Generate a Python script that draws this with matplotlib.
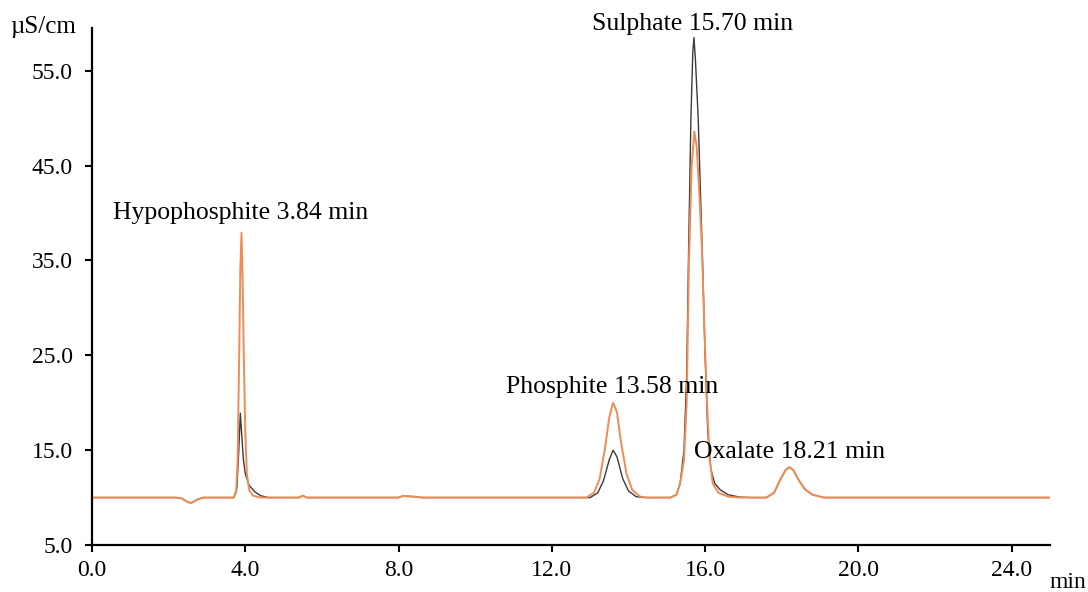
import matplotlib
matplotlib.use("Agg")
import matplotlib.pyplot as plt
from matplotlib.ticker import FormatStrFormatter

plt.rcParams["font.family"] = ["Liberation Serif", "DejaVu Serif"]

# orange trace (time in min, conductivity in uS/cm)
orange_t = [0.0, 2.2, 2.35, 2.5, 2.6, 2.75, 2.9,
            3.70, 3.76, 3.80, 3.84, 3.87, 3.90, 3.93, 3.96, 4.00, 4.04, 4.10, 4.20, 4.40,
            5.4, 5.5, 5.6, 8.0, 8.1, 8.4, 8.6,
            12.9, 13.1, 13.25, 13.4, 13.5, 13.6, 13.7, 13.8, 13.95, 14.1, 14.3, 14.5,
            15.10, 15.25, 15.35, 15.45, 15.52, 15.58, 15.65, 15.72, 15.78, 15.85, 15.92,
            15.98, 16.05, 16.12, 16.20, 16.35, 16.6, 16.9,
            17.6, 17.8, 17.95, 18.1, 18.2, 18.3, 18.45, 18.6, 18.8, 19.1, 24.97]
orange_y = [10.0, 10.0, 9.9, 9.5, 9.45, 9.8, 10.0,
            10.0, 10.6, 14.0, 25.0, 34.0, 37.9, 33.0, 25.0, 17.0, 12.5, 10.8, 10.2, 10.0,
            10.0, 10.2, 10.0, 10.0, 10.15, 10.1, 10.0,
            10.0, 10.5, 12.0, 15.5, 18.5, 20.0, 19.0, 16.0, 12.5, 10.8, 10.1, 10.0,
            10.0, 10.3, 11.5, 14.0, 20.0, 35.0, 45.0, 48.6, 47.0, 42.0, 36.0,
            28.0, 20.0, 14.0, 11.5, 10.5, 10.1, 10.0,
            10.0, 10.5, 11.8, 12.9, 13.2, 12.9, 11.8, 10.9, 10.3, 10.0, 10.0]

# black trace
black_t = [0.0, 2.2, 2.35, 2.5, 2.6, 2.75, 2.9,
           3.70, 3.78, 3.83, 3.87, 3.90, 3.95, 4.00, 4.10, 4.25, 4.40, 4.6,
           5.4, 5.5, 5.6, 8.0, 8.1, 8.4, 8.6,
           13.0, 13.2, 13.35, 13.5, 13.6, 13.7, 13.85, 14.0, 14.2, 14.4,
           15.10, 15.25, 15.35, 15.45, 15.52, 15.57, 15.63, 15.68, 15.71, 15.75, 15.82,
           15.88, 15.94, 16.00, 16.07, 16.15, 16.25, 16.4, 16.6, 16.9, 17.2,
           17.6, 17.8, 17.95, 18.1, 18.2, 18.3, 18.45, 18.6, 18.8, 19.1, 24.97]
black_y = [10.0, 10.0, 9.9, 9.5, 9.45, 9.8, 10.0,
           10.0, 11.0, 15.0, 18.9, 17.0, 14.0, 12.5, 11.3, 10.6, 10.2, 10.0,
           10.0, 10.2, 10.0, 10.0, 10.15, 10.1, 10.0,
           10.0, 10.5, 11.8, 14.0, 15.0, 14.3, 12.0, 10.7, 10.1, 10.0,
           10.0, 10.3, 11.5, 15.0, 23.0, 36.0, 50.0, 57.0, 58.5, 56.0, 50.0,
           42.0, 34.0, 25.0, 17.0, 13.0, 11.5, 10.8, 10.3, 10.05, 10.0,
           10.0, 10.5, 11.8, 12.9, 13.2, 12.9, 11.8, 10.9, 10.3, 10.0, 10.0]

peak_labels = ["Hypophosphite 3.84 min", "Phosphite 13.58 min",
               "Sulphate 15.70 min", "Oxalate 18.21 min"]
label_x = [0.55, 10.8, 13.05, 15.71]
label_y = [40.0, 21.7, 59.9, 14.8]

x_ticks = [0, 4, 8, 12, 16, 20, 24]
y_ticks = [5, 15, 25, 35, 45, 55]

fig = plt.figure(figsize=(10.88, 5.92), dpi=100)
ax = fig.add_axes([0.0846, 0.0794, 0.8804, 0.8733])

ax.plot(black_t, black_y, color="#3a3a3a", lw=1.0)
ax.plot(orange_t, orange_y, color="#ef8c55", lw=1.4)

for text, x, y in zip(peak_labels, label_x, label_y):
    ax.text(x, y, text, fontsize=18.5, ha="left", va="center", clip_on=False)

ax.set_xlim(0, 25)
ax.set_ylim(5, 59.5)
ax.set_xticks(x_ticks)
ax.set_yticks(y_ticks)
ax.xaxis.set_major_formatter(FormatStrFormatter("%.1f"))
ax.yaxis.set_major_formatter(FormatStrFormatter("%.1f"))
ax.tick_params(direction="out", length=5, width=1.5, labelsize=17)
ax.tick_params(axis="y", pad=9)
ax.tick_params(axis="x", pad=6)

for side in ("top", "right"):
    ax.spines[side].set_visible(False)
for side in ("left", "bottom"):
    ax.spines[side].set_linewidth(1.6)

fig.text(10 / 1088, 1 - 27 / 592, "µS/cm", fontsize=18, ha="left", va="center")
fig.text(1050 / 1088, 1 - 582 / 592, "min", fontsize=17, ha="left", va="center")

fig.savefig("out.png", dpi=100)
